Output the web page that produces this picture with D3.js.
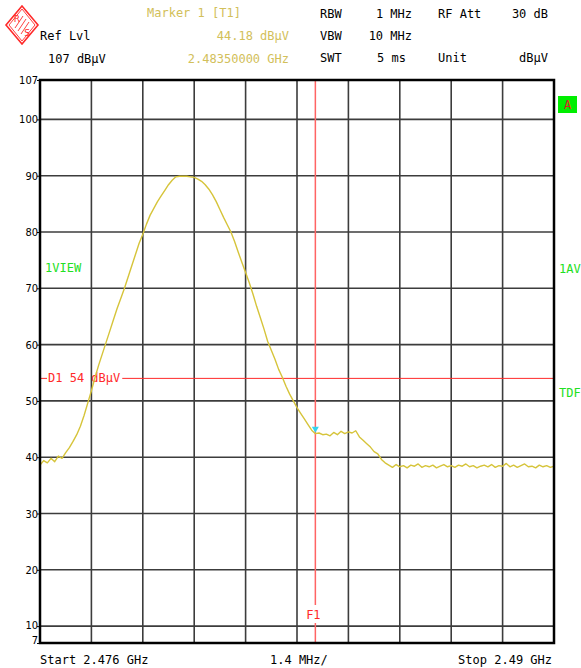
<!DOCTYPE html>
<html>
<head>
<meta charset="utf-8">
<script src="https://cdn.jsdelivr.net/npm/d3@7/dist/d3.min.js"></script>
<style>
  html, body { margin: 0; padding: 0; background: #fff; }
  svg { display: block; }
  .mono { font-family: "DejaVu Sans Mono", "Liberation Mono", monospace; font-size: 12px; }
  .tick { font-family: "Liberation Sans Narrow", "DejaVu Sans Condensed", sans-serif; font-size: 11px; }
</style>
</head>
<body>
<svg id="chart" width="581" height="668"></svg>
<script>
// Spectrum analyzer screen: sweep settings, level scale and the measured trace
const startMHz = 2476;
const stopMHz = 2490;
const spanPerDivMHz = 1.4;
const sweepStepMHz = 0.1;

const refLevel = 107;      // dBµV, top of screen
const bottomLevel = 7;     // dBµV, bottom of screen
const levelTicks = [107, 100, 90, 80, 70, 60, 50, 40, 30, 20, 10, 7];
const gridLevels = [100, 90, 80, 70, 60, 50, 40, 30, 20, 10];

const displayLine = { name: "D1", level: 54 };          // dBµV
const marker = { name: "Marker 1 [T1]", freqMHz: 2483.5, level: 44.18 };

// Trace level (dBµV) at each sweep point, 0.1 MHz apart from the start frequency
const traceLevel = [
  38.6, 39.4, 39.0, 39.8, 39.2, 40.2, 39.8, 40.8, 41.7, 42.8,
  44.0, 45.5, 47.4, 49.6, 51.8, 54.2, 56.4, 58.4, 60.4, 62.4,
  64.4, 66.4, 68.2, 70.0, 72.0, 74.0, 76.0, 78.0, 79.6, 81.4,
  83.0, 84.2, 85.4, 86.4, 87.4, 88.4, 89.2, 89.8, 89.9, 89.9,
  89.9, 89.8, 89.7, 89.4, 89.0, 88.4, 87.6, 86.6, 85.4, 84.0,
  82.6, 81.3, 80.0, 78.3, 76.4, 74.6, 72.8, 71.0, 69.0, 66.8,
  64.8, 62.8, 60.6, 59.0, 57.4, 55.6, 54.2, 52.6, 51.2, 50.0,
  48.8, 47.8, 46.8, 45.8, 44.8, 44.18, 44.3, 44.0, 44.1, 43.8,
  44.4, 44.0, 44.6, 44.2, 44.5, 44.3, 44.7, 43.6, 43.0, 42.4,
  41.8, 41.0, 40.6, 39.6, 39.0, 38.6, 38.2, 38.7, 38.3, 38.5,
  38.1, 38.6, 38.4, 38.8, 38.2, 38.5, 38.3, 38.6, 38.1, 38.4,
  38.7, 38.3, 38.5, 38.2, 38.6, 38.4, 38.8, 38.3, 38.5, 38.1,
  38.4, 38.6, 38.3, 38.7, 38.2, 38.5, 38.4, 38.9, 38.3, 38.6,
  38.2, 38.5, 38.8, 38.3, 38.4, 38.1, 38.6, 38.3, 38.5, 38.2,
  38.4
];
const traceMHz = traceLevel.map((_, i) => startMHz + i * sweepStepMHz);

const headerLeft = ["Ref Lvl", "107 dBµV"];
const headerMarker = [marker.name, marker.level.toFixed(2) + " dBµV", (marker.freqMHz / 1000).toFixed(8) + " GHz"];
const headerRight = [
  ["RBW", "1 MHz", "RF Att", "30 dB"],
  ["VBW", "10 MHz", "", ""],
  ["SWT", "5 ms", "Unit", "dBµV"]
];
const footer = ["Start 2.476 GHz", "1.4 MHz/", "Stop 2.49 GHz"];

const plot = { left: 40, right: 554, top: 80, bottom: 643 };
const traceColor = "#d6c43a";
const markerTextColor = "#d2c05a";
const green = "#22e022";
const red = "#ff2a2a";

const svg = d3.select("#chart");
svg.append("rect").attr("width", 581).attr("height", 668).attr("fill", "#fff");

const x = d3.scaleLinear().domain([startMHz, stopMHz]).range([plot.left, plot.right]);
const y = d3.scaleLinear().domain([bottomLevel, refLevel]).range([plot.bottom, plot.top]);

// Grid
const divisions = d3.range(0, 11).map(i => startMHz + i * spanPerDivMHz);
const grid = svg.append("g").attr("stroke", "#3c3c3c").attr("stroke-width", 1.6);
grid.selectAll("line.v").data(divisions.slice(1, -1)).join("line")
  .attr("x1", d => x(d)).attr("x2", d => x(d))
  .attr("y1", plot.top).attr("y2", plot.bottom);
grid.selectAll("line.h").data(gridLevels).join("line")
  .attr("x1", plot.left).attr("x2", plot.right)
  .attr("y1", d => y(d)).attr("y2", d => y(d));

// Level axis labels
const yAxis = d3.axisLeft(y).tickValues(levelTicks).tickSize(3).tickFormat(d3.format("d"));
const yg = svg.append("g").attr("transform", `translate(${plot.left},0)`).call(yAxis);
yg.select(".domain").remove();
yg.selectAll(".tick line").attr("stroke", "#000").attr("stroke-width", 1);
yg.selectAll(".tick text")
  .attr("class", "tick").attr("fill", "#000").attr("x", -2)
  .attr("dy", d => d === bottomLevel ? "0.05em" : (d === 10 ? "0.2em" : "0.32em"));

// Display line D1
const dy1 = y(displayLine.level);
const d1Text = svg.append("text").attr("class", "mono").attr("fill", red)
  .attr("x", 48).attr("y", dy1).attr("dominant-baseline", "central")
  .text(`${displayLine.name} ${displayLine.level} dBµV`);
const d1w = d1Text.node().getComputedTextLength();
svg.append("line").attr("stroke", red).attr("stroke-width", 1)
  .attr("x1", plot.left).attr("x2", 47).attr("y1", dy1).attr("y2", dy1);
svg.append("line").attr("stroke", red).attr("stroke-width", 1)
  .attr("x1", 48 + d1w + 2).attr("x2", plot.right).attr("y1", dy1).attr("y2", dy1);

// Frequency line F1 at marker position
const fx = x(marker.freqMHz);
svg.append("line").attr("stroke", "#ff6464").attr("stroke-width", 1.5)
  .attr("x1", fx).attr("x2", fx).attr("y1", plot.top).attr("y2", 605);
svg.append("line").attr("stroke", "#ff6464").attr("stroke-width", 1.5)
  .attr("x1", fx).attr("x2", fx).attr("y1", 623).attr("y2", plot.bottom);
svg.append("text").attr("class", "mono").attr("fill", red)
  .attr("x", fx - 2).attr("y", 615).attr("text-anchor", "middle").attr("dominant-baseline", "central")
  .text("F1");

// Trace
const line = d3.line().x(d => x(d[0])).y(d => y(d[1]));
svg.append("path")
  .datum(traceMHz.map((f, i) => [f, traceLevel[i]]))
  .attr("d", line).attr("fill", "none")
  .attr("stroke", traceColor).attr("stroke-width", 1.4).attr("stroke-linejoin", "round");

// Marker symbol
const mx = x(marker.freqMHz), my = y(marker.level);
svg.append("path")
  .attr("d", `M${mx - 3.5},${my - 7} L${mx + 3.5},${my - 7} L${mx},${my - 1} Z`)
  .attr("fill", "#35d2ee");

// Frame
svg.append("rect").attr("x", plot.left).attr("y", plot.top)
  .attr("width", plot.right - plot.left).attr("height", plot.bottom - plot.top)
  .attr("fill", "none").attr("stroke", "#000").attr("stroke-width", 2.5);

// Header: logo
const logo = svg.append("g").attr("stroke", red).attr("fill", "none");
logo.append("polygon").attr("points", "22,6 38,25 22,44 6,25").attr("stroke-width", 1.6);
logo.append("polygon").attr("points", "22,9 35,25 22,41 9,25").attr("stroke-width", 0.9);
[-3, 0, 3].forEach(o => {
  logo.append("line").attr("x1", 26 + o).attr("y1", 19 + o).attr("x2", 18 + o).attr("y2", 31 + o).attr("stroke-width", 0.9);
});
logo.append("text").attr("x", 17).attr("y", 22).attr("fill", red).attr("stroke", "none")
  .attr("font-family", "DejaVu Sans").attr("font-size", 9).attr("text-anchor", "middle").text("R");
logo.append("text").attr("x", 27).attr("y", 36).attr("fill", red).attr("stroke", "none")
  .attr("font-family", "DejaVu Sans").attr("font-size", 9).attr("text-anchor", "middle").text("S");

// Header text
const rowY = [13, 36, 59];
svg.append("text").attr("class", "mono").attr("x", 40).attr("y", rowY[1])
  .attr("dominant-baseline", "central").text(headerLeft[0]);
svg.append("text").attr("class", "mono").attr("x", 48).attr("y", rowY[2])
  .attr("dominant-baseline", "central").text(headerLeft[1]);

svg.append("text").attr("class", "mono").attr("fill", markerTextColor)
  .attr("x", 147).attr("y", rowY[0]).attr("dominant-baseline", "central").text(headerMarker[0]);
svg.append("text").attr("class", "mono").attr("fill", markerTextColor)
  .attr("x", 289).attr("y", rowY[1]).attr("text-anchor", "end").attr("dominant-baseline", "central").text(headerMarker[1]);
svg.append("text").attr("class", "mono").attr("fill", markerTextColor)
  .attr("x", 289).attr("y", rowY[2]).attr("text-anchor", "end").attr("dominant-baseline", "central").text(headerMarker[2]);

headerRight.forEach((row, r) => {
  const ry = [14, 36, 58][r];
  svg.append("text").attr("class", "mono").attr("x", 320).attr("y", ry).attr("dominant-baseline", "central").text(row[0]);
  const v = svg.append("text").attr("class", "mono").attr("y", ry).attr("dominant-baseline", "central").text(row[1]);
  if (r < 2) v.attr("x", 412).attr("text-anchor", "end"); else v.attr("x", 377);
  svg.append("text").attr("class", "mono").attr("x", 438).attr("y", ry).attr("dominant-baseline", "central").text(row[2]);
  svg.append("text").attr("class", "mono").attr("x", 548).attr("y", ry).attr("text-anchor", "end").attr("dominant-baseline", "central").text(row[3]);
});

// Side annotations
svg.append("text").attr("class", "mono").attr("fill", green).attr("x", 45).attr("y", 268)
  .attr("dominant-baseline", "central").text("1VIEW");
svg.append("text").attr("class", "mono").attr("fill", green).attr("x", 559).attr("y", 269)
  .attr("dominant-baseline", "central").text("1AV");
svg.append("text").attr("class", "mono").attr("fill", green).attr("x", 559).attr("y", 393)
  .attr("dominant-baseline", "central").text("TDF");
svg.append("rect").attr("x", 558).attr("y", 96).attr("width", 19).attr("height", 17).attr("fill", "#00ee00");
svg.append("text").attr("class", "mono").attr("fill", "#e02020").attr("x", 567.5).attr("y", 104.5)
  .attr("text-anchor", "middle").attr("dominant-baseline", "central").text("A");

// Footer
svg.append("text").attr("class", "mono").attr("x", 40).attr("y", 660).attr("dominant-baseline", "central").text(footer[0]);
svg.append("text").attr("class", "mono").attr("x", 270).attr("y", 660).attr("dominant-baseline", "central").text(footer[1]);
svg.append("text").attr("class", "mono").attr("x", 552).attr("y", 660).attr("text-anchor", "end").attr("dominant-baseline", "central").text(footer[2]);
</script>
</body>
</html>
